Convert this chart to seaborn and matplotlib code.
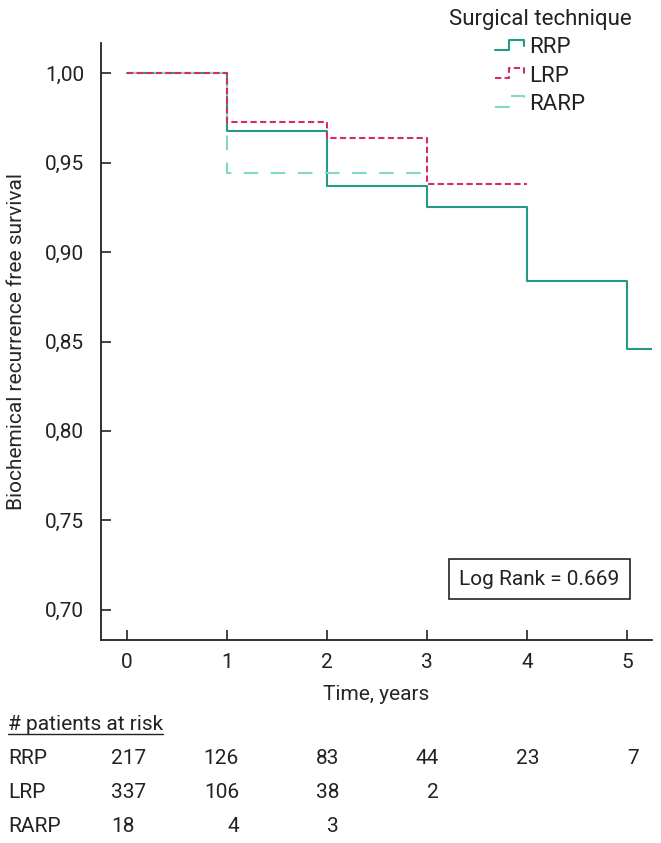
import pandas as pd
import matplotlib
matplotlib.use("Agg")
import matplotlib.pyplot as plt
import matplotlib.transforms as mtransforms
from matplotlib.lines import Line2D
from matplotlib.legend_handler import HandlerLine2D
from matplotlib.ticker import FuncFormatter
import seaborn as sns

# --- data ---
groups = ["RRP", "LRP", "RARP"]
times_rrp = [0, 1, 2, 3, 4, 5, 5.3]
surv_rrp = [1.000, 0.968, 0.937, 0.925, 0.884, 0.846, 0.846]
times_lrp = [0, 1, 2, 3, 4]
surv_lrp = [1.000, 0.973, 0.964, 0.938, 0.938]
times_rarp = [0, 1, 3]
surv_rarp = [1.000, 0.944, 0.944]

risk_times = [0, 1, 2, 3, 4, 5]
risk_rrp = [217, 126, 83, 44, 23, 7]
risk_lrp = [337, 106, 38, 2]
risk_rarp = [18, 4, 3]

y_ticks = [0.70, 0.75, 0.80, 0.85, 0.90, 0.95, 1.00]
log_rank_text = "Log Rank = 0.669"

colors = {"RRP": "#279a86", "LRP": "#d52b68", "RARP": "#82d8c8"}
dashes = {"RRP": "", "LRP": (3, 1.6), "RARP": (7, 6)}

df = pd.concat([
    pd.DataFrame({"time": times_rrp, "surv": surv_rrp, "group": "RRP"}),
    pd.DataFrame({"time": times_lrp, "surv": surv_lrp, "group": "LRP"}),
    pd.DataFrame({"time": times_rarp, "surv": surv_rarp, "group": "RARP"}),
], ignore_index=True)

FS = 15
sns.set_style("ticks")
plt.rcParams["font.family"] = ["Roboto", "DejaVu Sans"]
plt.rcParams["font.size"] = FS
plt.rcParams["text.color"] = "#222222"

fig = plt.figure(figsize=(6.61, 8.43), dpi=100)
ax = fig.add_axes([101 / 661, 1 - 640 / 843, 551 / 661, 597 / 843])

# draw order: RRP under, RARP, LRP on top
for g in ["RRP", "RARP", "LRP"]:
    sub = df[df["group"] == g]
    sns.lineplot(data=sub, x="time", y="surv", ax=ax, color=colors[g],
                 estimator=None, drawstyle="steps-post", lw=1.5,
                 dashes=False, legend=False)
    if dashes[g]:
        ax.lines[-1].set_dashes(dashes[g])

ax.set_xlim(-0.26, 5.25)
ax.set_ylim(0.683, 1.017)
ax.set_xticks(risk_times)
ax.set_yticks(y_ticks)
ax.yaxis.set_major_formatter(FuncFormatter(lambda v, p: f"{v:.2f}".replace(".", ",")))
ax.tick_params(direction="in", length=7, width=1.2, labelsize=FS, colors="#222222")
ax.tick_params(axis="x", pad=9)
ax.tick_params(axis="y", pad=12)
for s in ["top", "right"]:
    ax.spines[s].set_visible(False)
for s in ["left", "bottom"]:
    ax.spines[s].set_linewidth(1.3)
    ax.spines[s].set_color("#222222")

ax.set_xlabel("Time, years", fontsize=FS, labelpad=10)
ax.set_ylabel("Biochemical recurrence free survival", fontsize=FS, labelpad=14)

ax.text(0.795, 0.102, log_rank_text, transform=ax.transAxes, ha="center", va="center",
        fontsize=FS, bbox=dict(boxstyle="square,pad=0.5", fc="white", ec="#222222", lw=1.2))


# step-shaped legend handles
class StepHandler(HandlerLine2D):
    def create_artists(self, legend, orig_handle, xdescent, ydescent, width, height, fontsize, trans):
        x0, y0 = -xdescent, -ydescent
        xs = [x0, x0 + 0.5 * width, x0 + 0.5 * width, x0 + width, x0 + width]
        ys = [y0 + 0.2 * height, y0 + 0.2 * height, y0 + 0.85 * height, y0 + 0.85 * height, y0 + 0.45 * height]
        line = Line2D(xs, ys)
        self.update_prop(line, orig_handle, legend)
        line.set_transform(trans)
        return [line]


handles = []
for g in groups:
    h = Line2D([], [], color=colors[g], lw=1.5)
    if dashes[g]:
        h.set_dashes(dashes[g])
    handles.append(h)
leg = ax.legend(handles, groups, title="Surgical technique", loc="upper right",
                bbox_to_anchor=(0.977, 1.006), bbox_transform=fig.transFigure,
                frameon=False, fontsize=FS + 1, title_fontsize=FS + 1, handlelength=1.3,
                handletextpad=0.25, labelspacing=0.32, borderpad=0.15,
                handler_map={Line2D: StepHandler()})

# numbers at risk table
tr = mtransforms.blended_transform_factory(ax.transData, fig.transFigure)
hdr = fig.text(8 / 661, 1 - 724 / 843, "# patients at risk", fontsize=FS, va="center", ha="left")
rows = [("RRP", risk_rrp, 758), ("LRP", risk_lrp, 793), ("RARP", risk_rarp, 827)]
for name, counts, ypx in rows:
    yf = 1 - ypx / 843
    fig.text(8 / 661, yf, name, fontsize=FS, va="center", ha="left")
    for t, n in zip(risk_times, counts):
        if t == 0:
            ax.text(-0.16, yf, str(n), transform=tr, fontsize=FS, va="center", ha="left")
        else:
            ax.text(t + 0.12, yf, str(n), transform=tr, fontsize=FS, va="center", ha="right")

# underline the table header
fig.canvas.draw()
bb = hdr.get_window_extent().transformed(fig.transFigure.inverted())
fig.add_artist(Line2D([bb.x0, bb.x1], [bb.y0 - 0.001, bb.y0 - 0.001],
                      transform=fig.transFigure, color="#222222", lw=1.0))

fig.savefig("out.png", dpi=100)
